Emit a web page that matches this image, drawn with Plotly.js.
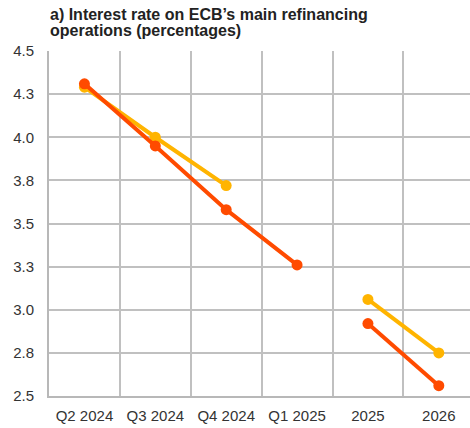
<!DOCTYPE html>
<html>
<head>
<meta charset="utf-8">
<script src="https://cdn.plot.ly/plotly-3.0.1.min.js"></script>
<style>html,body{margin:0;padding:0;overflow:hidden;background:#fff;}</style>
</head>
<body>
<div id="chart" style="width:470px;height:428px;"></div>
<script>
// Data
var quarterCats = ["Q2 2024", "Q3 2024", "Q4 2024", "Q1 2025"];
var annualCats = ["2025", "2026"];
var allCats = quarterCats.concat(annualCats);

var yellowQuarter = [4.29, 4.00, 3.72, null];
var yellowAnnual = [3.06, 2.75];
var redQuarter = [4.31, 3.95, 3.58, 3.26];
var redAnnual = [2.92, 2.56];

var titleLines = ["a) Interest rate on ECB\u2019s main refinancing", "operations (percentages)"];

var yellow = "#FFB400";
var red = "#FF4B00";

function tr(x, y, color) {
  return {
    x: x, y: y, type: "scatter", mode: "lines+markers",
    line: {color: color, width: 4},
    marker: {color: color, size: 11},
    connectgaps: false, showlegend: false, hoverinfo: "x+y"
  };
}

var data = [
  tr(quarterCats, yellowQuarter, yellow),
  tr(annualCats, yellowAnnual, yellow),
  tr(quarterCats, redQuarter, red),
  tr(annualCats, redAnnual, red)
];

var font = "Liberation Sans, Arial, sans-serif";
var titleFont = {family: font, size: 16, color: "#222"};
var tickFont = {family: font, size: 15, color: "#333"};
var layout = {
  width: 470, height: 428,
  margin: {l: 49, r: 0, t: 51, b: 32},
  paper_bgcolor: "#fff", plot_bgcolor: "#fff",
  font: {family: font, size: 15, color: "#333"},
  annotations: [
    {text: "<b>" + titleLines[0] + "</b>", xref: "paper", yref: "paper",
     x: 0, xshift: -1, y: (396 - 14.5) / 345, xanchor: "left", yanchor: "middle",
     showarrow: false, font: titleFont},
    {text: "<b>" + titleLines[1] + "</b>", xref: "paper", yref: "paper",
     x: 0, xshift: -1, y: (396 - 30.5) / 345, xanchor: "left", yanchor: "middle",
     showarrow: false, font: titleFont}
  ],
  xaxis: {
    type: "category",
    categoryorder: "array", categoryarray: allCats,
    range: [-0.5, 5.44],
    tickson: "boundaries",
    showgrid: true, gridcolor: "#c0c0c0", gridwidth: 2,
    showline: true, linecolor: "#b8b8b8", linewidth: 2,
    ticks: "", ticklabelstandoff: 5,
    zeroline: false, fixedrange: true,
    tickfont: tickFont
  },
  yaxis: {
    range: [2.5, 4.5],
    dtick: 0.25, tick0: 2.5,
    tickformat: ".1f",
    showgrid: true, gridcolor: "#c0c0c0", gridwidth: 2,
    showline: true, linecolor: "#b8b8b8", linewidth: 2,
    ticks: "", ticklabelstandoff: 10,
    zeroline: false, fixedrange: true,
    tickfont: tickFont
  }
};

Plotly.newPlot("chart", data, layout, {displayModeBar: false, staticPlot: true});
</script>
</body>
</html>
